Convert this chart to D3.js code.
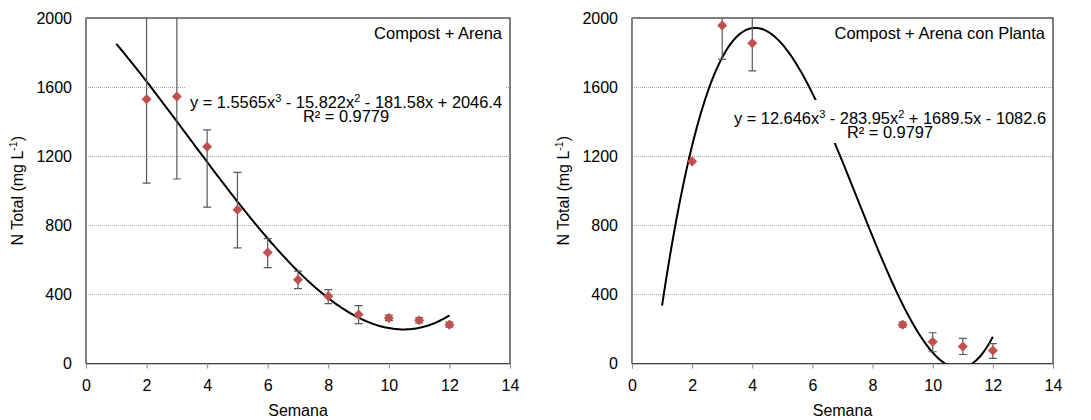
<!DOCTYPE html>
<html>
<head>
<meta charset="utf-8">
<script src="https://cdn.jsdelivr.net/npm/d3@7"></script>
<style>
  html, body { margin: 0; padding: 0; background: #fff; }
  svg { display: block; font-family: "Liberation Sans", Arial, sans-serif; }
</style>
</head>
<body>
<svg id="chart" width="1091" height="420"></svg>
<script>
// Semana (weeks) and N total concentration, mg/L
const weeksA = [2, 3, 4, 5, 6, 7, 8, 9, 10, 11, 12];
const nTotalA = [1530, 1545, 1255, 890, 643, 485, 390, 283, 264, 250, 225];
const errUpA = [490, 480, 97, 216, 80, 50, 38, 52, 16, 15, 15];
const errDownA = [486, 477, 350, 221, 88, 51, 43, 52, 16, 15, 15];

const weeksB = [2, 3, 4, 9, 10, 11, 12];
const nTotalB = [1170, 1956, 1854, 225, 126, 98, 75];
const errUpB = [0, 195, 160, 15, 52, 48, 40];
const errDownB = [0, 195, 160, 15, 58, 46, 45];

// Cubic trend line coefficients: c0 + c1 x + c2 x^2 + c3 x^3
const fitA = [2046.4, -181.58, -15.822, 1.5565];
const fitB = [-1082.6, 1689.5, -283.95, 12.646];
const r2A = "0.9779";
const r2B = "0.9797";

const xTicks = [0, 2, 4, 6, 8, 10, 12, 14];
const yTicks = [0, 400, 800, 1200, 1600, 2000];

const titleA = "Compost + Arena";
const titleB = "Compost + Arena con Planta";

const svg = d3.select("#chart");
const markerColor = "#c0504d";
const axisGray = "#868686";
const FONT = "'Liberation Sans', Arial, sans-serif";

function fmtEq(c) {
  // pieces: [text, isSuperscript]
  const a3 = c[3], a2 = c[2], a1 = c[1], a0 = c[0];
  const sign = v => (v < 0 ? " - " : " + ");
  return [
    ["y = " + a3 + "x", false], ["3", true],
    [sign(a2) + Math.abs(a2) + "x", false], ["2", true],
    [sign(a1) + Math.abs(a1) + "x" + sign(a0) + Math.abs(a0), false]
  ];
}

function panel(cfg) {
  const x = d3.scaleLinear().domain([0, 14]).range([cfg.left, cfg.right]);
  const y = d3.scaleLinear().domain([0, 2000]).range([363.5, 18]);
  const g = svg.append("g");
  const clipId = "clip" + cfg.id;

  g.append("clipPath").attr("id", clipId)
    .append("rect")
    .attr("x", x(0)).attr("y", y(2000))
    .attr("width", x(14) - x(0)).attr("height", y(0) - y(2000));

  // horizontal gridlines
  g.append("g")
    .selectAll("line")
    .data(yTicks.filter(t => t > 0 && t < 2000))
    .join("line")
    .attr("x1", x(0)).attr("x2", x(14))
    .attr("y1", d => Math.round(y(d)) + 0.5).attr("y2", d => Math.round(y(d)) + 0.5)
    .attr("stroke", "#a6a6a6").attr("stroke-width", 1)
    .attr("stroke-dasharray", "1,1");

  // plot frame
  g.append("rect")
    .attr("x", x(0)).attr("y", y(2000))
    .attr("width", x(14) - x(0)).attr("height", y(0) - y(2000))
    .attr("fill", "none").attr("stroke", "#000").attr("stroke-width", 1);

  // axes
  const xAxis = d3.axisBottom(x).tickValues(xTicks).tickSize(5).tickPadding(11);
  const gx = g.append("g").attr("transform", `translate(0,${y(0)})`).call(xAxis);
  gx.selectAll(".domain, line").attr("stroke", axisGray);
  gx.selectAll("text").attr("font-size", 16).attr("fill", "#000").attr("font-family", FONT);

  const yAxis = d3.axisLeft(y).tickValues(yTicks).tickFormat(d3.format("d"))
    .tickSize(0).tickPadding(14);
  const gy = g.append("g").attr("transform", `translate(${x(0)},0)`).call(yAxis);
  gy.selectAll(".domain").attr("stroke", axisGray).attr("d", `M0.5,${y(2000)}V${y(0)}`);
  gy.selectAll("text").attr("font-size", 16).attr("fill", "#000").attr("font-family", FONT);

  // axis titles
  g.append("text")
    .attr("x", (x(0) + x(14)) / 2).attr("y", 416)
    .attr("text-anchor", "middle").attr("font-size", 16).text("Semana");

  const yl = g.append("text")
    .attr("transform", `translate(${cfg.left - 63},${(y(0) + y(2000)) / 2}) rotate(-90)`)
    .attr("text-anchor", "middle").attr("font-size", 16);
  yl.append("tspan").text("N Total (mg L");
  yl.append("tspan").attr("font-size", 10.5).attr("dy", -6).text("-1");
  yl.append("tspan").attr("dy", 6).text(")");

  // panel title
  g.append("text")
    .attr("x", x(14) - 8).attr("y", 39)
    .attr("text-anchor", "end").attr("font-size", 16.5).text(cfg.title);

  const plot = g.append("g").attr("clip-path", `url(#${clipId})`);

  // trend line
  const poly = v => cfg.fit[0] + cfg.fit[1] * v + cfg.fit[2] * v * v + cfg.fit[3] * v * v * v;
  const xs = d3.range(1, 12.0001, 0.05);
  plot.append("path")
    .datum(xs)
    .attr("d", d3.line().x(d => x(d)).y(d => y(poly(d))))
    .attr("fill", "none").attr("stroke", "#000").attr("stroke-width", 2);

  // equation label on a white box
  const lab = g.append("g");
  const lx = cfg.labX, ly = cfg.labY;
  lab.append("rect")
    .attr("x", lx - 160).attr("y", ly - 13).attr("width", 320).attr("height", 43)
    .attr("fill", "#fff");
  const eq = lab.append("text").attr("x", lx).attr("y", ly + 5)
    .attr("text-anchor", "middle").attr("font-size", 16.4);
  fmtEq(cfg.fit).forEach(([t, sup]) => {
    if (sup) eq.append("tspan").attr("font-size", 11).attr("dy", -6).text(t);
    else eq.append("tspan").attr("dy", eq.selectAll("tspan").size() ? 6 : 0).text(t);
  });
  lab.append("text").attr("x", lx).attr("y", ly + 25)
    .attr("text-anchor", "middle").attr("font-size", 16.4)
    .text("R\u00b2 = " + cfg.r2);

  // error bars
  const pts = cfg.weeks.map((w, i) => ({ w, v: cfg.vals[i], up: cfg.up[i], dn: cfg.dn[i] }));
  const eb = plot.append("g").attr("stroke", "#595959").attr("stroke-width", 1.2);
  pts.filter(p => p.up > 0 || p.dn > 0).forEach(p => {
    eb.append("line").attr("x1", x(p.w)).attr("x2", x(p.w))
      .attr("y1", y(p.v + p.up)).attr("y2", y(p.v - p.dn));
    [p.v + p.up, p.v - p.dn].forEach(e => {
      eb.append("line").attr("x1", x(p.w) - 4).attr("x2", x(p.w) + 4)
        .attr("y1", y(e)).attr("y2", y(e));
    });
  });

  // markers
  plot.append("g").selectAll("path")
    .data(pts)
    .join("path")
    .attr("transform", p => `translate(${x(p.w)},${y(p.v)})`)
    .attr("d", d3.symbol(d3.symbolDiamond2, 64))
    .attr("fill", markerColor);
}

panel({
  id: "A", left: 86, right: 510, title: titleA,
  weeks: weeksA, vals: nTotalA, up: errUpA, dn: errDownA,
  fit: fitA, r2: r2A, labX: 346, labY: 97
});
panel({
  id: "B", left: 632, right: 1053, title: titleB,
  weeks: weeksB, vals: nTotalB, up: errUpB, dn: errDownB,
  fit: fitB, r2: r2B, labX: 890, labY: 113
});
</script>
</body>
</html>
